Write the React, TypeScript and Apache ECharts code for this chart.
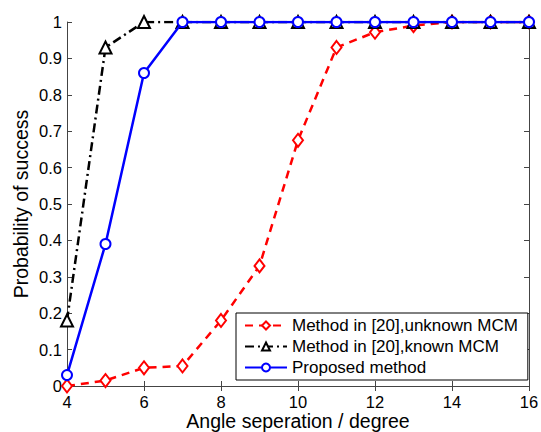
import React, { useEffect, useRef } from "react";
import * as echarts from "echarts";

const xValues = [4, 5, 6, 7, 8, 9, 10, 11, 12, 13, 14, 15, 16];
const unknownMCM = [0, 0.015, 0.05, 0.055, 0.18, 0.33, 0.675, 0.93, 0.972, 0.99, 1, 1, 1];
const knownMCM = [0.18, 0.93, 1, 1, 1, 1, 1, 1, 1, 1, 1, 1, 1];
const proposed = [0.03, 0.39, 0.86, 1, 1, 1, 1, 1, 1, 1, 1, 1, 1];
const seriesNames = [
  "Method in [20],unknown MCM",
  "Method in [20],known MCM",
  "Proposed method",
];

const FONT = "Liberation Sans";

export default function App() {
  const ref = useRef<HTMLDivElement>(null);
  useEffect(() => {
    if (!ref.current) return;
    const chart = echarts.init(ref.current, undefined, { renderer: "svg" });
    const pair = (ys: number[]) => xValues.map((x, i) => [x, ys[i]]);
    const axisCommon = {
      axisLine: { show: true, lineStyle: { color: "#444", width: 1 } },
      axisTick: { show: true, inside: true, length: 5, lineStyle: { color: "#444" } },
      splitLine: { show: false },
    };
    chart.setOption({
      animation: false,
      backgroundColor: "#fff",
      textStyle: { fontFamily: FONT },
      grid: { left: 67, right: 12, top: 22, bottom: 46, containLabel: false, outerBoundsMode: "none" },
      xAxis: [
        {
          type: "value",
          min: 4,
          max: 16,
          interval: 2,
          position: "bottom",
          ...axisCommon,
          axisLabel: { color: "#000", fontSize: 16.5, fontFamily: FONT, margin: 7 },
          name: "Angle seperation / degree",
          nameLocation: "middle",
          nameGap: 25,
          nameMoveOverlap: false,
          nameTextStyle: { color: "#000", fontSize: 19.5, fontFamily: FONT },
        },
        {
          type: "value",
          min: 4,
          max: 16,
          interval: 2,
          position: "top",
          ...axisCommon,
          axisLabel: { show: false },
        },
      ],
      yAxis: [
        {
          type: "value",
          min: 0,
          max: 1,
          interval: 0.1,
          position: "left",
          ...axisCommon,
          axisLabel: {
            color: "#000",
            fontSize: 16.5,
            fontFamily: FONT,
            margin: 5,
            formatter: (v: number) => (v === 0 ? "0" : v === 1 ? "1" : String(Math.round(v * 10) / 10)),
          },
          name: "Probability of success",
          nameLocation: "middle",
          nameGap: 36,
          nameMoveOverlap: false,
          nameTextStyle: { color: "#000", fontSize: 19.5, fontFamily: FONT },
        },
        {
          type: "value",
          min: 0,
          max: 1,
          interval: 0.1,
          position: "right",
          ...axisCommon,
          axisLabel: { show: false },
        },
      ],
      legend: {
        show: true,
        data: seriesNames,
        orient: "vertical",
        left: 236,
        top: 313,
        itemWidth: 42,
        itemHeight: 10,
        itemGap: 4,
        padding: [4, 10, 4, 8],
        backgroundColor: "#fff",
        borderColor: "#000",
        borderWidth: 1,
        borderRadius: 0,
        textStyle: { color: "#000", fontSize: 17, fontFamily: FONT, padding: [0, 0, 0, 0] },
      },
      series: [
        {
          name: seriesNames[0],
          type: "line",
          data: pair(unknownMCM),
          symbol: "diamond",
          symbolSize: [10, 13],
          lineStyle: { color: "#ff0000", width: 2.5, type: [8, 6] },
          itemStyle: { color: "#fff", borderColor: "#ff0000", borderWidth: 2 },
          z: 2,
        },
        {
          name: seriesNames[1],
          type: "line",
          data: pair(knownMCM),
          symbol: "triangle",
          symbolSize: 12,
          lineStyle: { color: "#000", width: 2.5, type: [9, 4, 2, 4] },
          itemStyle: { color: "#fff", borderColor: "#000", borderWidth: 2 },
          z: 3,
        },
        {
          name: seriesNames[2],
          type: "line",
          data: pair(proposed),
          symbol: "circle",
          symbolSize: 10,
          lineStyle: { color: "#0000ff", width: 2.5 },
          itemStyle: { color: "#fff", borderColor: "#0000ff", borderWidth: 2 },
          z: 4,
        },
      ],
    });
    return () => chart.dispose();
  }, []);
  return (
    <div
      ref={ref}
      style={{ position: "fixed", left: 0, top: 0, width: 541, height: 432, overflow: "hidden" }}
    />
  );
}
